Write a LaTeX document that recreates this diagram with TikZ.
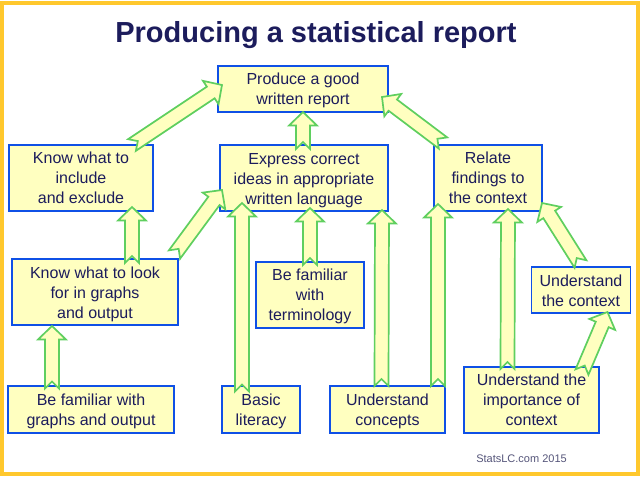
\documentclass[tikz,border=0pt]{standalone}
\usepackage{fontspec}
\setmainfont{Liberation Sans}
\usetikzlibrary{calc,positioning}
\definecolor{boxyellow}{HTML}{FFFFC0}
\definecolor{boxblue}{HTML}{0F50E6}
\definecolor{arrowgreen}{HTML}{5FCF5F}
\definecolor{framegold}{HTML}{FFC82D}
\definecolor{inknavy}{HTML}{1C1C5C}
\definecolor{footgrey}{HTML}{55557A}
\newcommand{\topgap}[1]{\rule{0pt}{#1}}
\tikzset{
  box/.style={draw=boxblue,fill=boxyellow,line width=1.6pt,outer sep=0pt,inner sep=0pt,
    align=center,text=inknavy,font=\fontsize{16}{20}\selectfont},
  upto/.style={draw=arrowgreen,fill=boxyellow,line width=1.7pt,line join=miter,
    to path={let \p1=(\tikztostart),\p2=(\tikztotarget),
      \n1={atan2(\y2-\y1,\x2-\x1)},\n2={veclen(\x2-\x1,\y2-\y1)} in
      ([shift={(\p1)},rotate=\n1]0pt,7pt)
      -- ([shift={(\p1)},rotate=\n1]7pt,0pt)
      -- ([shift={(\p1)},rotate=\n1]0pt,-7pt)
      -- ([shift={(\p1)},rotate=\n1]{\n2-13.5pt},-7pt)
      -- ([shift={(\p1)},rotate=\n1]{\n2-13.5pt},-14pt)
      -- ([shift={(\p1)},rotate=\n1]\n2,0pt)
      -- ([shift={(\p1)},rotate=\n1]{\n2-13.5pt},14pt)
      -- ([shift={(\p1)},rotate=\n1]{\n2-13.5pt},7pt)
      -- cycle}}
}
\begin{document}
\begin{tikzpicture}[x=1pt,y=1pt]
   \useasboundingbox (0,0) rectangle (640,-477);
   \draw[framegold,line width=4pt,fill=white] (2,-3) rectangle (638,-474);
   \node[box,minimum width=170pt,minimum height=46pt] (report) at (303,-89) {\topgap{14pt}Produce a good\\written report};
   \node[text=inknavy,font=\bfseries\fontsize{29}{32}\selectfont,above=14pt of report,xshift=13pt] (title) {Producing a statistical report};
   \node[box,minimum width=168pt,minimum height=66pt,below=33pt of report,xshift=1pt] (express) {\topgap{16pt}Express correct\\ideas in appropriate\\written language};
   \node[box,minimum width=144pt,minimum height=66pt,left=67pt of express] (include) {Know what to\\include\\and exclude};
   \node[box,minimum width=108pt,minimum height=66pt,right=46pt of express] (relate) {Relate\\findings to\\the context};
   \node[box,minimum width=166pt,minimum height=66pt,below=48pt of include,xshift=14pt] (look) {\topgap{16pt}Know what to look\\for in graphs\\and output};
   \node[box,minimum width=108pt,minimum height=66pt,below=51pt of express,xshift=6pt] (terms) {\topgap{14pt}Be familiar\\with\\terminology};
   \node[box,minimum width=166pt,minimum height=47pt,below=61pt of look,xshift=-4pt] (graphs) {\topgap{16pt}Be familiar with\\graphs and output};
   \node[box,minimum width=78pt,minimum height=47pt,right=48pt of graphs] (basic) {\topgap{16pt}Basic\\literacy};
   \node[box,minimum width=115pt,minimum height=47pt,right=30pt of basic] (concepts) {\topgap{16pt}Understand\\concepts};
   \node[box,minimum width=135pt,minimum height=66pt,right=19pt of concepts,yshift=9.5pt] (importance) {Understand the\\importance of\\context};
   \node[box,minimum width=99pt,minimum height=46pt,above=54pt of importance,xshift=49.5pt] (context) {\topgap{14pt}Understand\\the context};
   \node[text=footgrey,font=\fontsize{11}{13}\selectfont,below=18pt of importance,xshift=-10pt] (credit) {StatsLC.com 2015};
   \draw[upto] ([xshift=51pt]include.north) to ([xshift=4pt,yshift=4pt]report.west);
   \draw[upto] ([xshift=-1pt,yshift=-4pt]express.north) to (report.south);
   \draw[upto] ([xshift=37pt,yshift=-4pt]look.north) to ([xshift=51pt,yshift=4pt]include.south);
   \draw[upto] ([xshift=-3.5pt,yshift=4.5pt]look.north east) to ([xshift=2pt,yshift=-12pt]express.west);
   \draw[upto] ([xshift=-19pt,yshift=-5.5pt]basic.north) to ([xshift=-62pt,yshift=8pt]express.south);
   \draw[upto] ([yshift=-3pt]terms.north) to ([xshift=6pt,yshift=3pt]express.south);
   \draw[upto] ([xshift=-39pt,yshift=-2.5pt]graphs.north) to ([xshift=-43pt,yshift=-1pt]look.south);
   \draw[upto] ([xshift=-6pt]concepts.north) to ([xshift=78pt,yshift=1pt]express.south);
   \draw[upto] ([xshift=50.5pt]concepts.north) to ([xshift=-50pt,yshift=7pt]relate.south);
   \draw[upto] ([xshift=-24pt,yshift=-2pt]importance.north) to ([xshift=20pt,yshift=2pt]relate.south);
   \draw[upto] ([xshift=-17pt,yshift=-5pt]importance.north east) to ([xshift=26.5pt,yshift=1pt]context.south);
   \draw[upto] ([xshift=-.5pt,yshift=3pt]context.north) to ([yshift=8pt]relate.south east);
   \draw[upto] ([xshift=-45pt,yshift=2pt]relate.north) to ([xshift=-6pt,yshift=-8pt]report.east);
\end{tikzpicture}
\end{document}
